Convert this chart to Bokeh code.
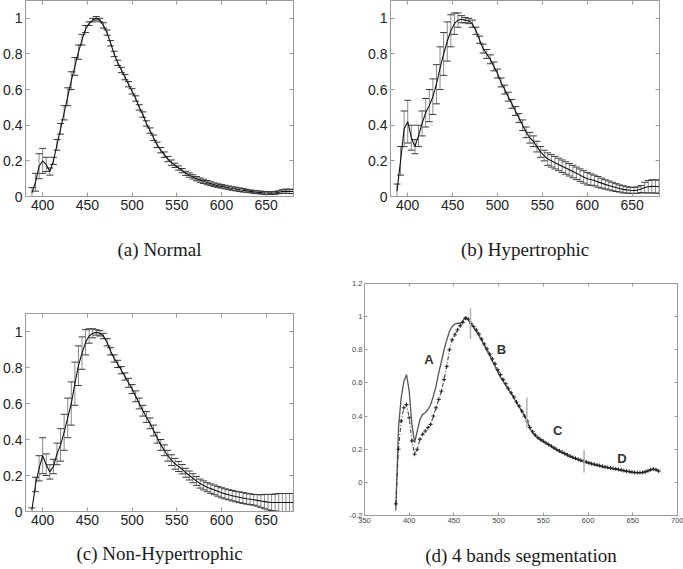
from bokeh.plotting import figure
from bokeh.models import (ColumnDataSource, Whisker, TeeHead, Range1d, LinearAxis,
                          FixedTicker, PrintfTickFormatter)
from bokeh.layouts import row, column
from bokeh.embed import file_html
from bokeh.resources import INLINE
from bokeh.core.properties import value

# ---------------- data ----------------
wavelength = [388, 392, 396, 400, 404, 408, 412, 416, 420, 424, 428, 432, 436, 440, 444, 448,
              452, 456, 460, 464, 468, 472, 476, 480, 484, 488, 492, 496, 500, 504, 508, 512,
              516, 520, 524, 528, 532, 536, 540, 544, 548, 552, 556, 560, 564, 568, 572, 576,
              580, 584, 588, 592, 596, 600, 604, 608, 612, 616, 620, 624, 628, 632, 636, 640,
              644, 648, 652, 656, 660, 664, 668, 672, 676, 680]

normal_mean = [0.02, 0.08, 0.17, 0.20, 0.18, 0.14, 0.20, 0.29, 0.38, 0.47,
               0.56, 0.65, 0.73, 0.81, 0.88, 0.94, 0.97, 0.99, 1.00, 0.99,
               0.96, 0.92, 0.86, 0.80, 0.75, 0.71, 0.67, 0.63, 0.59, 0.55,
               0.50, 0.46, 0.41, 0.37, 0.33, 0.29, 0.26, 0.235, 0.21, 0.19,
               0.175, 0.16, 0.145, 0.13, 0.12, 0.11, 0.10, 0.092, 0.085, 0.078,
               0.072, 0.066, 0.061, 0.057, 0.053, 0.049, 0.045, 0.042, 0.038, 0.035,
               0.032, 0.029, 0.026, 0.024, 0.022, 0.020, 0.019, 0.019, 0.020, 0.024,
               0.028, 0.030, 0.029, 0.028]
normal_err = [0.03, 0.05, 0.07, 0.07, 0.04, 0.02, 0.02, 0.03, 0.03, 0.04,
              0.05, 0.05, 0.05, 0.04, 0.03, 0.02, 0.01, 0.01, 0.01, 0.01,
              0.015, 0.015, 0.015, 0.015, 0.015, 0.015, 0.015, 0.015, 0.015, 0.015,
              0.015, 0.015, 0.015, 0.015, 0.015, 0.015, 0.015, 0.015, 0.015, 0.015,
              0.012, 0.012, 0.012, 0.012, 0.012, 0.012, 0.012, 0.012, 0.012, 0.012,
              0.010, 0.010, 0.010, 0.010, 0.010, 0.010, 0.010, 0.010, 0.010, 0.010,
              0.008, 0.008, 0.008, 0.008, 0.008, 0.008, 0.008, 0.008, 0.008, 0.008,
              0.010, 0.012, 0.012, 0.012]

hyper_mean = [0.03, 0.20, 0.38, 0.42, 0.33, 0.28, 0.34, 0.41, 0.47, 0.51,
              0.56, 0.63, 0.72, 0.80, 0.87, 0.93, 0.97, 0.99, 0.995, 0.99,
              0.985, 0.97, 0.93, 0.88, 0.83, 0.80, 0.77, 0.73, 0.69, 0.64,
              0.60, 0.56, 0.52, 0.48, 0.44, 0.40, 0.36, 0.33, 0.31, 0.28,
              0.25, 0.23, 0.21, 0.20, 0.19, 0.18, 0.17, 0.16, 0.15, 0.14,
              0.13, 0.12, 0.11, 0.10, 0.095, 0.09, 0.082, 0.075, 0.068, 0.062,
              0.056, 0.05, 0.045, 0.04, 0.037, 0.035, 0.034, 0.036, 0.042, 0.05,
              0.055, 0.057, 0.056, 0.055]
hyper_err = [0.04, 0.08, 0.10, 0.12, 0.07, 0.04, 0.06, 0.07, 0.08, 0.09,
             0.10, 0.11, 0.12, 0.12, 0.11, 0.09, 0.06, 0.04, 0.02, 0.015,
             0.015, 0.02, 0.02, 0.02, 0.025, 0.025, 0.025, 0.025, 0.025, 0.025,
             0.025, 0.025, 0.025, 0.025, 0.025, 0.03, 0.03, 0.03, 0.03, 0.03,
             0.03, 0.03, 0.035, 0.035, 0.035, 0.035, 0.035, 0.035, 0.035, 0.035,
             0.035, 0.035, 0.035, 0.035, 0.032, 0.03, 0.03, 0.028, 0.026, 0.025,
             0.024, 0.022, 0.02, 0.02, 0.018, 0.017, 0.017, 0.018, 0.02, 0.03,
             0.035, 0.037, 0.037, 0.037]

nonhyper_mean = [0.01, 0.15, 0.24, 0.31, 0.26, 0.22, 0.25, 0.32, 0.37, 0.44,
                 0.52, 0.60, 0.71, 0.81, 0.88, 0.94, 0.975, 0.99, 0.995, 0.99,
                 0.975, 0.94, 0.89, 0.85, 0.82, 0.785, 0.75, 0.715, 0.68, 0.64,
                 0.60, 0.56, 0.525, 0.49, 0.45, 0.41, 0.37, 0.34, 0.31, 0.285,
                 0.265, 0.25, 0.235, 0.215, 0.20, 0.185, 0.17, 0.155, 0.145, 0.135,
                 0.127, 0.12, 0.112, 0.104, 0.098, 0.093, 0.088, 0.083, 0.079, 0.075,
                 0.071, 0.068, 0.065, 0.062, 0.058, 0.055, 0.052, 0.05, 0.05, 0.05,
                 0.05, 0.05, 0.05, 0.05]
nonhyper_err = [0.01, 0.04, 0.07, 0.10, 0.06, 0.04, 0.04, 0.06, 0.09, 0.10,
                0.11, 0.12, 0.12, 0.11, 0.09, 0.07, 0.04, 0.025, 0.015, 0.015,
                0.015, 0.02, 0.02, 0.02, 0.02, 0.02, 0.02, 0.025, 0.025, 0.03,
                0.03, 0.03, 0.03, 0.03, 0.03, 0.03, 0.03, 0.03, 0.03, 0.03,
                0.03, 0.028, 0.026, 0.025, 0.025, 0.025, 0.025, 0.025, 0.025, 0.025,
                0.026, 0.027, 0.027, 0.028, 0.028, 0.028, 0.029, 0.029, 0.03, 0.03,
                0.03, 0.03, 0.03, 0.032, 0.035, 0.04, 0.043, 0.045, 0.047, 0.05,
                0.05, 0.05, 0.05, 0.05]

seg_wavelength = [385, 388, 391, 394, 397, 400, 403, 406, 409, 412, 415, 418, 421, 424, 427,
                  430, 433, 436, 439, 442, 445, 448, 451, 454, 457, 460, 463, 466, 469, 472,
                  475, 478, 481, 484, 487, 490, 493, 496, 499, 502, 505, 508, 511, 514, 517,
                  520, 523, 526, 529, 532, 535, 538, 541, 544, 547, 550, 553, 556, 559, 562,
                  565, 568, 571, 574, 577, 580, 583, 586, 589, 592, 595, 598, 601, 604, 607,
                  610, 613, 616, 619, 622, 625, 628, 631, 634, 637, 640, 643, 646, 649, 652,
                  655, 658, 661, 664, 667, 670, 673, 676, 679]
seg_solid = [-0.17, 0.33, 0.51, 0.61, 0.65, 0.55, 0.35, 0.24, 0.31, 0.38, 0.41, 0.42, 0.44, 0.47, 0.52,
             0.58, 0.66, 0.73, 0.80, 0.86, 0.91, 0.94, 0.955, 0.96, 0.96, 0.975, 1.0, 0.98, 0.955, 0.935,
             0.91, 0.885, 0.855, 0.825, 0.795, 0.765, 0.73, 0.70, 0.665, 0.635, 0.61, 0.585, 0.56, 0.535, 0.51,
             0.48, 0.455, 0.43, 0.40, 0.37, 0.325, 0.30, 0.28, 0.265, 0.255, 0.245, 0.235, 0.225, 0.215, 0.205,
             0.195, 0.185, 0.178, 0.17, 0.162, 0.155, 0.148, 0.142, 0.136, 0.13, 0.125, 0.12, 0.115, 0.11, 0.106,
             0.102, 0.098, 0.094, 0.09, 0.087, 0.084, 0.081, 0.078, 0.075, 0.072, 0.069, 0.066, 0.063, 0.06, 0.058,
             0.057, 0.057, 0.058, 0.062, 0.068, 0.075, 0.08, 0.077, 0.068]
seg_dotted = [-0.13, 0.20, 0.37, 0.45, 0.47, 0.39, 0.25, 0.17, 0.20, 0.26, 0.29, 0.31, 0.33, 0.35, 0.40,
              0.45, 0.50, 0.55, 0.62, 0.70, 0.80, 0.86, 0.89, 0.92, 0.945, 0.965, 0.99, 0.985, 0.96, 0.94,
              0.92, 0.895, 0.865, 0.835, 0.805, 0.775, 0.745, 0.715, 0.68, 0.65, 0.62, 0.595, 0.565, 0.54, 0.515,
              0.485, 0.46, 0.43, 0.40, 0.37, 0.33, 0.305, 0.285, 0.27, 0.258, 0.248, 0.238, 0.228, 0.218, 0.208,
              0.198, 0.19, 0.182, 0.174, 0.166, 0.158, 0.151, 0.145, 0.139, 0.133, 0.128, 0.123, 0.118, 0.113, 0.109,
              0.105, 0.101, 0.097, 0.093, 0.09, 0.087, 0.084, 0.081, 0.078, 0.075, 0.071, 0.068, 0.065, 0.062, 0.06,
              0.059, 0.059, 0.06, 0.064, 0.07, 0.076, 0.08, 0.076, 0.068]

band_edge_x = [468.5, 531.5, 595.5]
band_edge_lo = [0.865, 0.33, 0.06]
band_edge_hi = [1.05, 0.51, 0.195]
band_names = ["A", "B", "C", "D"]
band_label_x = [422, 503, 566, 638]
band_label_y = [0.74, 0.80, 0.31, 0.145]

x_ticks_abc = [400, 450, 500, 550, 600, 650]
y_ticks_abc = [0, 0.2, 0.4, 0.6, 0.8, 1]
x_ticks_d = [350, 400, 450, 500, 550, 600, 650, 700]
y_ticks_d = [-0.2, 0, 0.2, 0.4, 0.6, 0.8, 1, 1.2]

captions = ["(a) Normal", "(b) Hypertrophic", "(c) Non-Hypertrophic", "(d) 4 bands segmentation"]

FRAME = "#9a9a9a"
SANS = "Liberation Sans"
SERIF = "Liberation Serif"


def hidden_axis(ticks, tick_len):
    return LinearAxis(ticker=FixedTicker(ticks=ticks), major_label_text_color=None,
                      major_label_text_alpha=0, major_label_standoff=0,
                      major_tick_in=tick_len, major_tick_out=0,
                      axis_line_color=FRAME, major_tick_line_color=FRAME,
                      minor_tick_line_color=None)


def style_axes(p, xt, yt, font_size, tick_len, standoff):
    for ax in p.xaxis + p.yaxis:
        ax.axis_line_color = FRAME
        ax.major_tick_line_color = FRAME
        ax.major_tick_in = tick_len
        ax.major_tick_out = 0
        ax.minor_tick_line_color = None
        ax.major_label_text_font = SANS
        ax.major_label_text_font_size = font_size
        ax.major_label_text_color = "#222222"
        ax.major_label_standoff = standoff
        ax.formatter = PrintfTickFormatter(format="%g")
    p.xaxis.ticker = FixedTicker(ticks=xt)
    p.yaxis.ticker = FixedTicker(ticks=yt)
    p.add_layout(hidden_axis(xt, tick_len), "above")
    p.add_layout(hidden_axis(yt, tick_len), "right")
    p.xgrid.visible = False
    p.ygrid.visible = False
    p.outline_line_color = FRAME


def make_fig(w, h, bl, br, bt, bb, xr, yr):
    p = figure(width=w, height=h, output_backend="svg", toolbar_location=None,
               x_range=Range1d(*xr), y_range=Range1d(*yr), frame_align=False,
               min_border_left=bl, min_border_right=br, min_border_top=bt, min_border_bottom=bb)
    p.background_fill_color = "white"
    p.border_fill_color = "white"
    return p


def add_caption(p, text, standoff):
    ax = p.below[0]          # the bottom x axis carries the sub-figure caption
    ax.axis_label = text
    ax.axis_label_standoff = standoff
    ax.axis_label_text_font = SERIF
    ax.axis_label_text_font_size = "19px"
    ax.axis_label_text_font_style = "normal"
    ax.axis_label_text_color = "#1a1a1a"


def errorbar_panel(p, mean, err):
    src = ColumnDataSource(dict(x=wavelength, y=mean,
                                upper=[m + e for m, e in zip(mean, err)],
                                lower=[m - e for m, e in zip(mean, err)]))
    wk = Whisker(source=src, base="x", upper="upper", lower="lower", dimension="height",
                 line_color="#8a8a8a", line_width=1,
                 upper_head=TeeHead(size=7, line_color="#3a3a3a", line_width=1),
                 lower_head=TeeHead(size=7, line_color="#3a3a3a", line_width=1))
    p.add_layout(wk)
    p.line("x", "y", source=src, line_color="#111111", line_width=1.1)


XR = (380.8, 680.5)
YR = (0, 1.1)

# (a)  frame x 24..293, y 0..196
pa = make_fig(360, 270, 24, 67, 0, 74, XR, YR)
errorbar_panel(pa, normal_mean, normal_err)
style_axes(pa, x_ticks_abc, y_ticks_abc, "14px", 4, 3)
add_caption(pa, captions[0], 26)

# (b)  frame x 390..659, y 0..196
pb = make_fig(323, 270, 30, 24, 0, 74, XR, YR)
errorbar_panel(pb, hyper_mean, hyper_err)
style_axes(pb, x_ticks_abc, y_ticks_abc, "14px", 4, 3)
add_caption(pb, captions[1], 26)

# (c)  frame x 24..293, y 313..511
pc = make_fig(344, 299, 24, 51, 43, 58, XR, YR)
errorbar_panel(pc, nonhyper_mean, nonhyper_err)
style_axes(pc, x_ticks_abc, y_ticks_abc, "14px", 4, 3)
add_caption(pc, captions[2], 15)

# (d)  frame x 364..677, y 283..515
pd_ = make_fig(339, 299, 20, 6, 13, 54, (350, 700), (-0.2, 1.2))
pd_.line(seg_wavelength, seg_solid, line_color="#555555", line_width=1.3)
pd_.line(seg_wavelength, seg_dotted, line_color="#333333", line_width=1, line_dash="4 2 1 2")
pd_.scatter(seg_wavelength, seg_dotted, marker="cross", size=4, line_color="#222222", line_width=1)
pd_.segment(x0=band_edge_x, y0=band_edge_lo, x1=band_edge_x, y1=band_edge_hi,
            line_color="#b0b0b0", line_width=1.5)
pd_.text(x=band_label_x, y=band_label_y, text=band_names, text_font=value(SANS),
         text_font_size="13px", text_font_style="bold", text_color="#333333",
         text_align="center", text_baseline="middle")
style_axes(pd_, x_ticks_d, y_ticks_d, "7.5px", 3, 2)
for ax in pd_.xaxis + pd_.yaxis:
    ax.major_label_text_color = "#444444"
add_caption(pd_, captions[3], 19)

layout = column(row(pa, pb), row(pc, pd_))
open("out.html", "w").write(file_html(layout, INLINE))
